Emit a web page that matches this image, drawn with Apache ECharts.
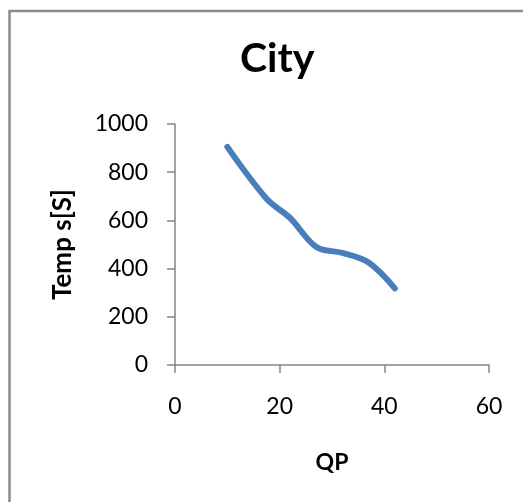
<!DOCTYPE html>
<html>
<head>
<meta charset="utf-8">
<script src="https://cdn.jsdelivr.net/npm/echarts@6/dist/echarts.min.js"></script>
<style>
  html, body { margin: 0; padding: 0; background: #fff; }
  #chart { width: 523px; height: 502px; }
</style>
</head>
<body>
<div id="chart"></div>
<script>
// QP values and encoding time (seconds)
const qp = [10, 17.5, 22, 27, 32, 37, 42];
const timeSec = [905, 690, 610, 490, 465, 425, 318];
const xTicks = [0, 20, 40, 60];
const yTicks = [0, 200, 400, 600, 800, 1000];

const font = 'Lato, "Open Sans", sans-serif';
const axisGray = '#868686';

const chart = echarts.init(document.getElementById('chart'), null, { renderer: 'canvas' });

chart.setOption({
  backgroundColor: '#fff',
  animation: false,
  title: {
    text: 'City',
    left: 235,
    top: 33,
    textStyle: { fontFamily: font, fontWeight: 'bold', fontSize: 41, color: '#000' }
  },
  graphic: [{
    type: 'rect',
    shape: { x: 9.5, y: 11, width: 640, height: 640 },
    style: { fill: 'none', stroke: '#8c8c8c', lineWidth: 2.5 },
    silent: true
  }],
  grid: { left: 175, top: 124, width: 314, height: 241, containLabel: false },
  xAxis: {
    type: 'value',
    min: xTicks[0],
    max: xTicks[xTicks.length - 1],
    interval: xTicks[1] - xTicks[0],
    name: 'QP',
    nameLocation: 'middle',
    nameGap: 86,
    nameTextStyle: { fontFamily: font, fontWeight: 'bold', fontSize: 23, color: '#000' },
    axisLine: { lineStyle: { color: axisGray, width: 1.5 } },
    axisTick: { show: true, length: 8, inside: false, lineStyle: { color: axisGray, width: 1.5 } },
    axisLabel: { fontFamily: font, fontSize: 23, color: '#000', margin: 30, formatter: v => String(v) },
    splitLine: { show: false }
  },
  yAxis: {
    type: 'value',
    min: yTicks[0],
    max: yTicks[yTicks.length - 1],
    interval: yTicks[1] - yTicks[0],
    name: 'Temp s[S]',
    nameLocation: 'middle',
    nameGap: 99,
    nameTextStyle: { fontFamily: font, fontWeight: 'bold', fontSize: 26, color: '#000' },
    axisLine: { show: true, lineStyle: { color: axisGray, width: 1.5 } },
    axisTick: { show: true, length: 8, lineStyle: { color: axisGray, width: 1.5 } },
    axisLabel: { fontFamily: font, fontSize: 23, color: '#000', margin: 27, formatter: v => String(v) },
    splitLine: { show: false }
  },
  series: [{
    type: 'line',
    data: qp.map((q, i) => [q, timeSec[i]]),
    smooth: 0.35,
    showSymbol: false,
    lineStyle: { color: '#4a7ebb', width: 6, cap: 'round', join: 'round' }
  }]
});
</script>
</body>
</html>
